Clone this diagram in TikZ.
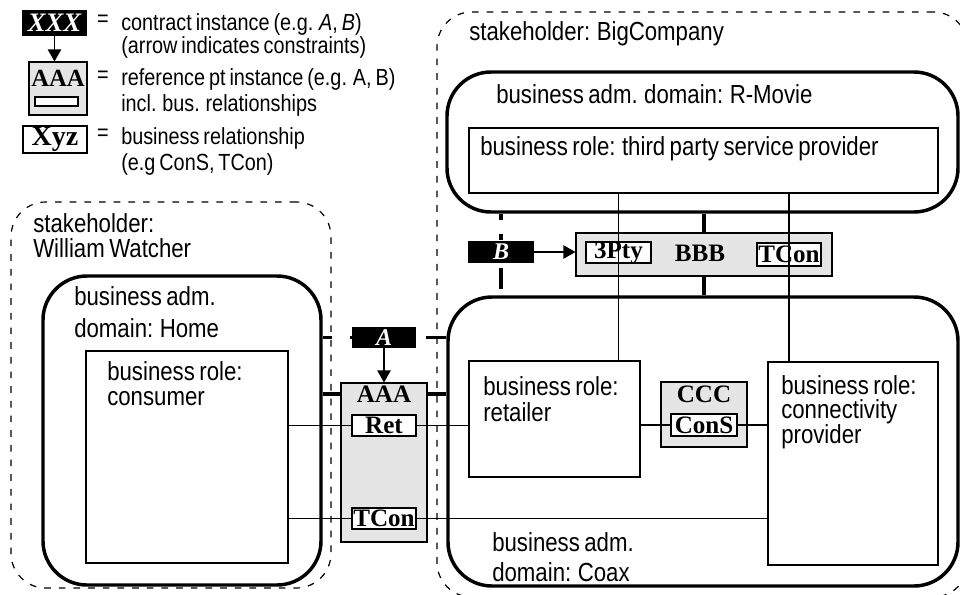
\documentclass[tikz,border=0pt]{standalone}
\usepackage{fontspec}
\setmainfont{Liberation Sans}[FakeStretch=0.85,WordSpace=0.72]
\newfontfamily\boxfont{Liberation Serif}
\usetikzlibrary{arrows.meta,positioning,fit}
\definecolor{refgray}{gray}{0.9}
\newcommand{\bigtxt}[1]{\fontsize{19.6}{#1}\selectfont}
\newcommand{\legtxt}[1]{\fontsize{17.5}{#1}\selectfont}
\tikzstyle{stakeholder}=[draw,line width=0.9pt,dash pattern=on 5pt off 6pt,rounded corners=26pt,inner sep=0pt]
\tikzstyle{admdomain}=[draw,line width=2.6pt,rounded corners=33pt,inner sep=0pt]
\tikzstyle{role}=[draw,line width=0.8pt,fill=white,inner sep=0pt]
\tikzstyle{refpt}=[draw,line width=0.8pt,fill=refgray,inner sep=0pt]
\tikzstyle{relation}=[draw,line width=0.8pt,fill=white,inner sep=0pt]
\tikzstyle{contract}=[fill=black,inner sep=0pt]
\tikzstyle{boxname}=[inner sep=0pt,font=\boxfont\bfseries\fontsize{18.8}{19}\selectfont]
\tikzstyle{contractname}=[inner sep=0pt,text=white,font=\boxfont\bfseries\itshape\fontsize{18}{18}\selectfont]
\tikzstyle{txt}=[anchor=north west,inner sep=0pt,align=left]

\begin{document}
\begin{tikzpicture}[x=0.75pt,y=-0.75pt,>={Triangle[width=10pt,length=9pt]},thickline/.style={line width=2.6pt},thinline/.style={line width=0.8pt}]
\useasboundingbox (0,0) rectangle (960,594);
%-------------------------start legend code ---------------------
	\node[contract,fit={(22,10) (87,36)}] (xxx) {};
	\node[contractname,font=\boxfont\bfseries\itshape\fontsize{20}{20}\selectfont] (xxxname) at (xxx) {XXX};
	\node[refpt,fit={(29,62) (87,115)}] (aaaleg) {};
	\node[boxname,font=\boxfont\bfseries\fontsize{18.5}{18}\selectfont] (aaalegname) at (58,78) {AAA};
	\node[role,fit={(35,97) (78,106)}] (aaaleginner) {};
	\node[relation,fit={(23,126) (87,153)}] (xyzleg) {};
	\node[boxname,font=\boxfont\bfseries\fontsize{21}{21}\selectfont] (xyzlegname) at (xyzleg) {Xyz};
	\draw[->,thinline] (xxx.south) -- (xxx.south |- aaaleg.north);
	
	\node[inner sep=0pt,font=\legtxt{18}] (eqone) at (103,21) {=};
	\node[inner sep=0pt,font=\legtxt{18}] (eqtwo) at (103,77) {=};
	\node[inner sep=0pt,font=\legtxt{18}] (eqthree) at (103,135) {=};
	\node[txt,font=\legtxt{15}] (legcontract) at (121,13) {contract instance (e.g. \textit{A}, \textit{B})\\(arrow indicates constraints)};
	\node[txt,font=\legtxt{20}] (legrefpt) at (121,68) {reference pt instance (e.g. A, B)\\incl. bus. relationships};
	\node[txt,font=\legtxt{20}] (legrelation) at (121,127) {business relationship\\(e.g ConS, TCon)};
%--------------------------end legend code ----------------------
%--------------------start object code --------------------
	%Stakeholders
	\node[stakeholder,fit={(11,202) (331,588)}] (watcher) {};
	\node[stakeholder,fit={(437,12) (968,597)}] (bigcompany) {};
	\node[txt,font=\bigtxt{18.75}] (watcherlbl) at (33,213) {stakeholder:\\William Watcher};
	\node[txt,font=\bigtxt{18.75}] (bigcompanylbl) at (469,21) {stakeholder: BigCompany};
	
	%Business administrative domains
	\node[admdomain,fit={(43,276) (321,585)}] (home) {};
	\node[admdomain,fit={(447,72) (958,212)}] (rmovie) {};
	\node[admdomain,fit={(448,297) (958,586)}] (coax) {};
	\node[txt,font=\bigtxt{24}] (homelbl) at (74,286) {business adm.\\domain: Home};
	\node[txt,font=\bigtxt{18.75}] (rmovielbl) at (496,84) {business adm. domain: R-Movie};
	\node[txt,font=\bigtxt{22.5}] (coaxlbl) at (492,532) {business adm.\\domain: Coax};
	
	%Business roles
	\node[role,fit={(86,351) (288,563)}] (consumer) {};
	\node[role,fit={(469,128) (938,193)}] (third) {};
	\node[role,fit={(469,361) (640,477)}] (retailer) {};
	\node[role,fit={(768,362) (938,565)}] (conn) {};
	\node[txt,font=\bigtxt{18.75}] (consumerlbl) at (107,361) {business role:\\consumer};
	\node[txt,font=\bigtxt{18.75}] (thirdlbl) at (480,136) {business role: third party service provider};
	\node[txt,font=\bigtxt{20}] (retailerlbl) at (483,376) {business role:\\retailer};
	\node[txt,font=\bigtxt{18}] (connlbl) at (781,375) {business role:\\connectivity\\provider};
	
	%Reference points
	\node[refpt,fit={(341,383) (427,542)}] (aaa) {};
	\node[boxname] (aaaname) at (384,394) {AAA};
	\node[relation,fit={(352,415) (416,436)}] (ret) {};
	\node[boxname] (retname) at (ret) {Ret};
	\node[relation,fit={(352,508) (416,529)}] (tcon) {};
	\node[boxname] (tconname) at (tcon) {TCon};
	
	\node[refpt,fit={(576,233) (832,276)}] (bbb) {};
	\node[boxname] (bbbname) at (700,253) {BBB};
	\node[relation,fit={(586,242) (651,263)}] (pty) {};
	\node[boxname] (ptyname) at (pty) {3Pty};
	\node[relation,fit={(757,243) (821,266)}] (tcontwo) {};
	\node[boxname] (tcontwoname) at (tcontwo) {TCon};
	
	\node[refpt,fit={(661,382) (747,447)}] (ccc) {};
	\node[boxname] (cccname) at (704,394) {CCC};
	\node[relation,fit={(671,414) (737,436)}] (cons) {};
	\node[boxname] (consname) at (cons) {ConS};
	
	%Contracts
	\node[contract,fit={(352,327) (416,348)}] (a) {};
	\node[contractname] (aname) at (a) {A};
	\node[contract,fit={(468,241) (534,263)}] (b) {};
	\node[contractname] (bname) at (b) {B};
	\draw[->,thinline] (a.south) -- (aaa.north);
	\draw[->,thinline] (b.east) -- (bbb.west |- b.east);
	
	%Contract boundaries
	\draw[thickline,dash pattern=on 7pt off 13.5pt] (home.east |- a.west) -- (a.west);
	\draw[thickline,dash pattern=on 15pt off 15pt] (coax.west |- a.east) -- (a.east);
	\draw[thickline,dash pattern=on 4.5pt off 11pt] (b.north |- rmovie.south) -- (b.north);
	\draw[thickline,dash pattern=on 15.75pt off 10pt,dash phase=21pt] (b.south |- coax.north) -- (b.south);
	
	%Reference point links
	\draw[thickline] (home.east |- aaaname) -- (aaa.west |- aaaname);
	\draw[thickline] (aaa.east |- aaaname) -- (coax.west |- aaaname);
	\draw[thickline] (bbb.north) -- (bbb.north |- rmovie.south);
	\draw[thickline] (bbb.south) -- (bbb.south |- coax.north);
	
	%Business relationships
	\draw[thinline] (consumer.east |- ret.west) -- (ret.west);
	\draw[thinline] (ret.east) -- (retailer.west |- ret.east);
	\draw[thinline] (consumer.east |- tcon.west) -- (tcon.west);
	\draw[thinline] (tcon.east) -- (conn.west |- tcon.east);
	\draw[thinline] (retailer.east |- cons.west) -- (cons.west);
	\draw[thinline] (cons.east) -- (conn.west |- cons.east);
	\draw[thinline] (third.south -| pty) -- (retailer.north -| pty);
	\draw[thinline] (third.south -| tcontwo) -- (conn.north -| tcontwo);
%-------------------------end object code-----------------------
\end{tikzpicture}
\end{document}
